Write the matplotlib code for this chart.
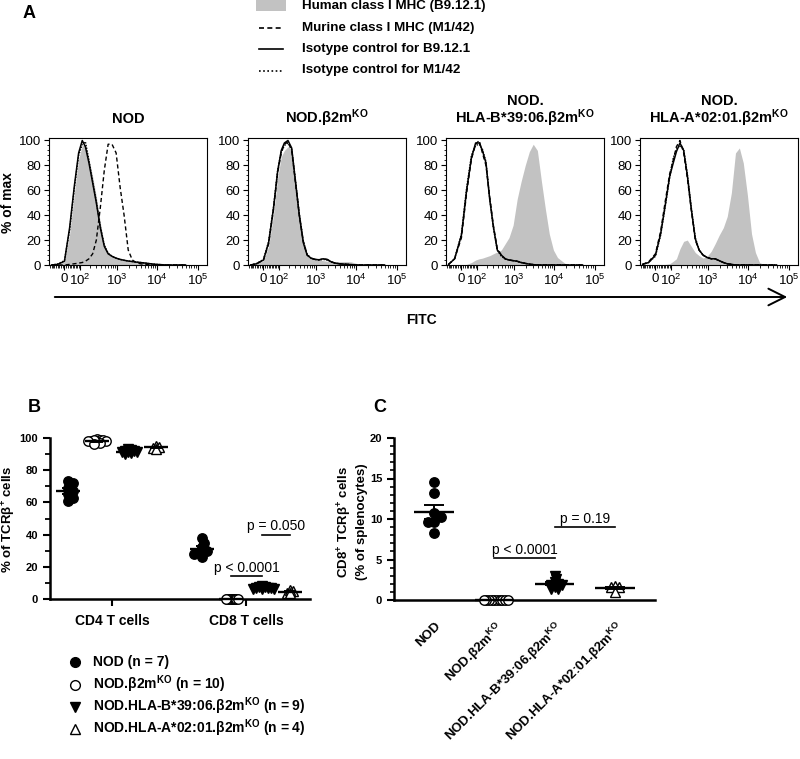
import numpy as np
import matplotlib
matplotlib.use("Agg")
import matplotlib.pyplot as plt
from matplotlib.lines import Line2D
from matplotlib.patches import Rectangle, FancyArrowPatch
from matplotlib.ticker import FixedLocator, MultipleLocator

plt.rcParams['font.family'] = ['Liberation Sans', 'DejaVu Sans']
plt.rcParams['mathtext.fontset'] = 'custom'
plt.rcParams['mathtext.rm'] = 'Liberation Sans'
plt.rcParams['mathtext.bf'] = 'Liberation Sans:bold'
plt.rcParams['mathtext.it'] = 'Liberation Sans:italic'
plt.rcParams['mathtext.sf'] = 'Liberation Sans'

# ---------------- data: panel A (FITC intensity grid, % of max) ----------------
fitc = [-80, -40, 0, 30, 60, 90, 120, 150, 190, 240, 300, 380, 480, 600, 750, 950,
        1200, 1500, 1900, 2400, 3000, 3800, 4800, 6000, 7500, 9500, 12000, 15000,
        19000, 25000, 35000, 50000]

nod_human = [0, 0.5, 2.7, 25, 58, 85, 96, 97, 85, 71, 55, 34, 17, 10, 7.5, 6, 5, 4.3,
             3.8, 3.4, 3, 2.8, 2.6, 2, 1.5, 1, 0.7, 0.4, 0.2, 0, 0, 0]
nod_murine = [0, 0, 0, 0.5, 1, 1.5, 2, 3, 5, 9, 20, 46, 76, 97, 97, 90, 62, 40, 12, 4,
              2, 1, 0.5, 0.2, 0, 0, 0, 0, 0, 0, 0, 0]
nod_iso_b9 = [0, 0.5, 3, 30, 64, 90, 100, 95, 82, 66, 50, 30, 15, 9, 7, 5.5, 4.5, 3.8,
              3.2, 2.8, 2.3, 2, 1.6, 1.2, 0.8, 0.5, 0.3, 0.1, 0, 0, 0, 0]
nod_iso_m1 = [0, 0.8, 3.5, 28, 62, 88, 97, 99, 84, 67, 51, 31, 16, 9.5, 7, 5.5, 4.5,
              3.8, 3.2, 2.8, 2.4, 2, 1.6, 1.2, 0.8, 0.5, 0.3, 0.1, 0, 0, 0, 0]

b2m_human = [0, 1, 3.5, 15, 40, 70, 87, 92, 95, 93, 70, 43, 21, 9, 5.5, 4.5, 4, 3.5,
             3, 2.8, 2.6, 2.6, 2.7, 2.7, 2.5, 1.5, 0.7, 0.2, 0, 0, 0, 0]
b2m_murine = [0, 1, 4, 17, 44, 74, 90, 97, 99, 92, 67, 40, 19, 8, 5.5, 4.5, 4.2, 4.8,
              4.3, 2.5, 1.5, 1, 0.7, 0.5, 0.3, 0.1, 0, 0, 0, 0, 0, 0]
b2m_iso_b9 = [0, 1, 4, 18, 45, 75, 92, 98, 100, 94, 68, 40, 18, 8, 5.5, 4.5, 4.2, 5,
              4.5, 2.5, 1.5, 1, 0.7, 0.5, 0.3, 0.1, 0, 0, 0, 0, 0, 0]
b2m_iso_m1 = [0, 1.2, 4.5, 19, 46, 76, 91, 96, 98, 93, 69, 41, 19, 8.5, 5.5, 4.5, 4,
              4.5, 4, 2.5, 1.5, 1, 0.7, 0.5, 0.3, 0.1, 0, 0, 0, 0, 0, 0]

b39_human = [0, 0, 0, 0.5, 2, 4, 5, 5.5, 6.5, 7.5, 9, 10.5, 12, 17, 22, 32, 53, 67,
             80, 91, 97, 92, 67, 45, 25, 12, 6, 3.5, 1, 0, 0, 0]
b39_murine = [0.5, 5, 22, 58, 85, 97, 100, 90, 80, 55, 32, 13, 8, 5, 4, 3.5, 3, 2,
              1.3, 0.7, 0.3, 0, 0, 0, 0, 0, 0, 0, 0, 0, 0, 0]
b39_iso_b9 = [0.5, 5, 24, 60, 86, 98, 98, 92, 82, 53, 31, 12, 8, 5, 4, 3.5, 3, 2,
              1.3, 0.7, 0.3, 0, 0, 0, 0, 0, 0, 0, 0, 0, 0, 0]
b39_iso_m1 = [0.5, 5, 25, 62, 88, 96, 97, 93, 83, 54, 30, 12, 7, 5, 4, 3.5, 3, 2,
              1.3, 0.7, 0.3, 0, 0, 0, 0, 0, 0, 0, 0, 0, 0, 0]

a02_human = [0, 0, 0, 0, 0.5, 1, 3, 5, 13, 19, 20, 15, 10, 7.5, 5.5, 7, 11, 17, 24,
             30, 39, 58, 90, 94, 82, 56, 25, 10, 2, 0.3, 0, 0]
a02_murine = [0.5, 2.5, 9, 27, 52, 73, 84, 95, 100, 90, 70, 44, 20, 12, 8, 6, 5, 5,
              3.5, 2, 1, 0.5, 0, 0, 0, 0, 0, 0, 0, 0, 0, 0]
a02_iso_b9 = [0.5, 2, 8, 25, 49, 71, 82, 91, 98, 92, 72, 45, 21, 12, 8, 6, 5, 5, 3.5,
              2, 1, 0.5, 0, 0, 0, 0, 0, 0, 0, 0, 0, 0]
a02_iso_m1 = [0.5, 2, 7, 24, 48, 70, 86, 93, 96, 93, 73, 46, 22, 12, 8, 6, 5, 5, 3.5,
              2, 1, 0.5, 0, 0, 0, 0, 0, 0, 0, 0, 0, 0]

hist_titles = ['NOD', 'NOD.β2m$^{\\mathbf{KO}}$',
               'NOD.\nHLA-B*39:06.β2m$^{\\mathbf{KO}}$',
               'NOD.\nHLA-A*02:01.β2m$^{\\mathbf{KO}}$']
hist_xticks = [0, 100, 1000, 10000, 100000]
hist_xticklabels = ['0', '$10^2$', '$10^3$', '$10^4$', '$10^5$']
legendA_labels = ['Human class I MHC (B9.12.1)', 'Murine class I MHC (M1/42)',
                  'Isotype control for B9.12.1', 'Isotype control for M1/42']

# ---------------- data: panel B (% of TCRb+ cells) ----------------
b_categories = ['CD4 T cells', 'CD8 T cells']
cd4_nod = [73, 72, 69, 67, 65, 63, 61]
cd4_b2m = [99.5, 99, 98.5, 98, 98, 97.5, 97, 99, 98, 96.5]
cd4_b39 = [93, 92.5, 92, 91.5, 91, 91, 90.5, 92, 90]
cd4_a02 = [95, 94.5, 94, 93]
cd8_nod = [38, 35, 32, 30, 29, 28, 26]
cd8_b2m = [0, 0, 0, 0, 0, 0, 0, 0, 0, 0]
cd8_b39 = [8, 7.5, 7, 7, 6.5, 6.5, 6, 7, 7.5]
cd8_a02 = [5, 4, 5.5, 3.5]
b_pvals = ['p < 0.0001', 'p = 0.050']

# ---------------- data: panel C (CD8+ TCRb+ % of splenocytes) ----------------
strains = ['NOD', 'NOD.β2m$^{\\mathbf{KO}}$', 'NOD.HLA-B*39:06.β2m$^{\\mathbf{KO}}$',
           'NOD.HLA-A*02:01.β2m$^{\\mathbf{KO}}$']
c_nod = [14.6, 13.2, 10.8, 10.2, 9.6, 9.6, 8.3]
c_b2m = [0, 0, 0, 0, 0, 0, 0, 0, 0, 0]
c_b39 = [3.0, 2.6, 2.2, 2.0, 1.9, 1.8, 1.6, 1.4, 1.3]
c_a02 = [1.7, 1.6, 1.6, 1.0]
c_pvals = ['p < 0.0001', 'p = 0.19']

# ---------------- figure ----------------
W, H = 800, 759
fig = plt.figure(figsize=(W / 100, H / 100), dpi=100)


def fbox(l, t, r, b):
    return [l / W, 1 - b / H, (r - l) / W, (b - t) / H]


def fx(x):
    return x / W


def fy(y):
    return 1 - y / H


def fwd(x):
    return np.arcsinh(np.asarray(x, float) / 100.0) / np.log(10)


def inv(y):
    return 100.0 * np.sinh(np.asarray(y, float) * np.log(10))


GRAY = '#c2c2c2'
minor_x = ([-v for v in range(10, 100, 10)] + list(range(10, 100, 10)) +
           list(range(200, 1000, 100)) + list(range(2000, 10000, 1000)) +
           list(range(20000, 100000, 10000)))

hist_sets = [(nod_human, nod_murine, nod_iso_b9, nod_iso_m1),
             (b2m_human, b2m_murine, b2m_iso_b9, b2m_iso_m1),
             (b39_human, b39_murine, b39_iso_b9, b39_iso_m1),
             (a02_human, a02_murine, a02_iso_b9, a02_iso_m1)]
hist_lefts = [49, 248, 446, 640]

for i, (hum, mur, ib9, im1) in enumerate(hist_sets):
    l = hist_lefts[i]
    ax = fig.add_axes(fbox(l, 138, l + 158, 265))
    ax.set_xscale('function', functions=(fwd, inv))
    ax.fill_between(fitc, 0, hum, color=GRAY, lw=0, zorder=1)
    ax.plot(fitc, im1, color='k', ls=(0, (1, 1)), lw=1.0, zorder=2)
    ax.plot(fitc, mur, color='k', ls=(0, (3, 2)), lw=1.0, zorder=3)
    ax.plot(fitc, ib9, color='k', ls='-', lw=1.1, zorder=4)
    ax.set_xlim(-100, 170000)
    ax.set_ylim(0, 102)
    ax.set_xticks(hist_xticks)
    ax.set_xticklabels(hist_xticklabels, fontsize=9.5)
    ax.xaxis.set_minor_locator(FixedLocator(minor_x))
    ax.set_yticks([0, 20, 40, 60, 80, 100])
    ax.set_yticklabels(['0', '20', '40', '60', '80', '100'], fontsize=9.5)
    ax.yaxis.set_minor_locator(MultipleLocator(4))
    ax.tick_params(axis='both', which='major', direction='out', length=3.5, width=0.8, pad=2)
    ax.tick_params(axis='both', which='minor', direction='out', length=1.8, width=0.6)
    for s in ax.spines.values():
        s.set_linewidth(0.8)
    ax.set_title(hist_titles[i], fontsize=10.5, fontweight='bold', pad=11, linespacing=0.95)

fig.text(fx(8), fy(203), '% of max', rotation=90, ha='center', va='center',
         fontsize=10, fontweight='bold')
fig.add_artist(FancyArrowPatch((fx(52), fy(297)), (fx(790), fy(297)),
                               transform=fig.transFigure,
                               arrowstyle='->,head_length=0.8,head_width=0.4',
                               mutation_scale=15, lw=1.4, color='k'))
fig.text(fx(421), fy(320), 'FITC', ha='center', va='center', fontsize=10,
         fontweight='bold')

# legend A (manual)
rowsA = [6, 27.5, 49, 70.5]
fig.add_artist(Rectangle((fx(256), fy(11)), (286 - 256) / W, 11 / H,
                         transform=fig.transFigure, color=GRAY, lw=0))
styles = [None, (0, (3, 2)), '-', (0, (1, 1.5))]
for k in range(1, 4):
    fig.add_artist(Line2D([fx(259), fx(283)], [fy(rowsA[k]), fy(rowsA[k])],
                          transform=fig.transFigure, color='k', lw=1.2, ls=styles[k]))
for k in range(4):
    fig.text(fx(302), fy(rowsA[k]), legendA_labels[k], ha='left', va='center',
             fontsize=9.6, fontweight='bold')

# panel letters
fig.text(fx(29), fy(13), 'A', ha='center', va='center', fontsize=13, fontweight='bold')
fig.text(fx(34), fy(408), 'B', ha='center', va='center', fontsize=13, fontweight='bold')
fig.text(fx(380), fy(408), 'C', ha='center', va='center', fontsize=13, fontweight='bold')


# ---------------- helpers for scatter panels ----------------
def swarm_x(ax, x0, vals, d_px):
    vals = np.asarray(vals, float)
    T = ax.transData
    ppu = T.transform((x0 + 1.0, 0.0))[0] - T.transform((x0, 0.0))[0]
    ypx = np.array([T.transform((x0, v))[1] for v in vals])
    order = np.argsort(-vals, kind='stable')
    placed = []
    offs = np.zeros(len(vals))
    step = d_px / 2.0
    for i in order:
        k = 0
        chosen = None
        while chosen is None:
            cands = [0.0] if k == 0 else [k * step, -k * step]
            for c in cands:
                if all(np.hypot(c - px, ypx[i] - py) >= d_px - 1e-9 for px, py in placed):
                    chosen = c
                    break
            k += 1
        placed.append((chosen, ypx[i]))
        offs[i] = chosen
    return x0 + offs / ppu


marker_styles = [('o', 'k'), ('o', 'w'), ('v', 'k'), ('^', 'w')]


def draw_group(ax, xc, vals, mstyle, d_px, msize, half_mean, capsize):
    xs = swarm_x(ax, xc, vals, d_px)
    mk, fc = mstyle
    ax.plot(xs, vals, ls='none', marker=mk, ms=msize, mfc=fc, mec='k', mew=1.0,
            clip_on=False, zorder=3)
    m = np.mean(vals)
    sem = np.std(vals, ddof=1) / np.sqrt(len(vals))
    ax.plot([xc - half_mean, xc + half_mean], [m, m], color='k', lw=1.7,
            zorder=4, clip_on=False, solid_capstyle='butt')
    ax.errorbar([xc], [m], yerr=[sem], fmt='none', ecolor='k', elinewidth=1.4,
                capsize=capsize, capthick=1.4, zorder=4, clip_on=False)


def style_prism(ax):
    for s in ['top', 'right']:
        ax.spines[s].set_visible(False)
    for s in ['left', 'bottom']:
        ax.spines[s].set_linewidth(1.8)
    ax.tick_params(axis='both', which='major', direction='out', length=5, width=1.5)
    ax.tick_params(axis='y', which='minor', direction='out', length=3.5, width=1.3)


# ---------------- panel B ----------------
axB = fig.add_axes(fbox(50, 438, 310, 599))
axB.set_xlim(-0.463, 1.478)
axB.set_ylim(0, 100)
style_prism(axB)
b_offsets = [-0.33, -0.11, 0.12, 0.33]
b_data = [[cd4_nod, cd4_b2m, cd4_b39, cd4_a02], [cd8_nod, cd8_b2m, cd8_b39, cd8_a02]]
b_spread = [[5.0, 3.0, 3.0, 3.2], [5.0, 1.3, 3.0, 3.2]]
for c in range(2):
    for g in range(4):
        draw_group(axB, c + b_offsets[g], b_data[c][g], marker_styles[g],
                   b_spread[c][g], 6.8, 0.09, 4)
axB.set_xticks([0, 1])
axB.set_xticklabels(b_categories, fontsize=10, fontweight='bold')
axB.set_yticks([0, 20, 40, 60, 80, 100])
axB.set_yticklabels(['0', '20', '40', '60', '80', '100'], fontsize=8, fontweight='bold')
axB.yaxis.set_minor_locator(FixedLocator([10, 30, 50, 70, 90]))
axB.tick_params(axis='x', pad=6)
# p-value bars
pb_pairs = [(1, 2, 14), (2, 3, 40)]
for (g1, g2, yv), txt in zip(pb_pairs, b_pvals):
    x1, x2 = 1 + b_offsets[g1], 1 + b_offsets[g2]
    axB.plot([x1, x2], [yv, yv], color='k', lw=1.2, clip_on=False)
    axB.annotate(txt, ((x1 + x2) / 2, yv), xytext=(0, 3), textcoords='offset points',
                 ha='center', va='baseline', fontsize=10)
fig.text(fx(9), fy(519), '% of TCRβ$^{\\mathbf{+}}$ cells', rotation=90, ha='center',
         va='center', fontsize=9.5, fontweight='bold')

# legend B (manual)
labelsB = [f'NOD (n = {len(cd4_nod)})',
           f'NOD.β2m$^{{\\mathbf{{KO}}}}$ (n = {len(cd4_b2m)})',
           f'NOD.HLA-B*39:06.β2m$^{{\\mathbf{{KO}}}}$ (n = {len(cd4_b39)})',
           f'NOD.HLA-A*02:01.β2m$^{{\\mathbf{{KO}}}}$ (n = {len(cd4_a02)})']
rowsB = [662, 684.5, 706.5, 728.5]
for k in range(4):
    mk, fc = marker_styles[k]
    fig.add_artist(Line2D([fx(75)], [fy(rowsB[k])], transform=fig.transFigure,
                          ls='none', marker=mk, ms=7, mfc=fc, mec='k', mew=1.0))
    fig.text(fx(93), fy(rowsB[k]), labelsB[k], ha='left', va='center', fontsize=10,
             fontweight='bold')

# ---------------- panel C ----------------
axC = fig.add_axes(fbox(394, 438, 655, 600))
axC.set_xlim(-0.667, 3.667)
axC.set_ylim(0, 20)
style_prism(axC)
c_data = [c_nod, c_b2m, c_b39, c_a02]
c_spread = [6.5, 2.7, 3.5, 4.0]
for g in range(4):
    draw_group(axC, g, c_data[g], marker_styles[g], c_spread[g], 6.8, 0.33, 7.5)
axC.set_xticks([0, 1, 2, 3])
axC.set_xticklabels(strains, fontsize=9.5, fontweight='bold', rotation=45,
                    ha='right', va='top', rotation_mode='anchor')
axC.tick_params(axis='x', length=0, pad=14)
axC.set_yticks([0, 5, 10, 15, 20])
axC.set_yticklabels(['0', '5', '10', '15', '20'], fontsize=8, fontweight='bold')
axC.yaxis.set_minor_locator(MultipleLocator(1))
axC.tick_params(axis='y', which='minor', length=3, width=1.2)
pc_pairs = [(1, 2, 5.2), (2, 3, 9.0)]
for (g1, g2, yv), txt in zip(pc_pairs, c_pvals):
    axC.plot([g1, g2], [yv, yv], color='k', lw=1.2, clip_on=False)
    axC.annotate(txt, ((g1 + g2) / 2, yv), xytext=(0, 3), textcoords='offset points',
                 ha='center', va='baseline', fontsize=10)
fig.text(fx(352), fy(522), 'CD8$^{\\mathbf{+}}$ TCRβ$^{\\mathbf{+}}$ cells\n(% of splenocytes)',
         rotation=90, ha='center', va='center', fontsize=9.5, fontweight='bold',
         linespacing=1.15)

fig.savefig('out.png', dpi=100)
